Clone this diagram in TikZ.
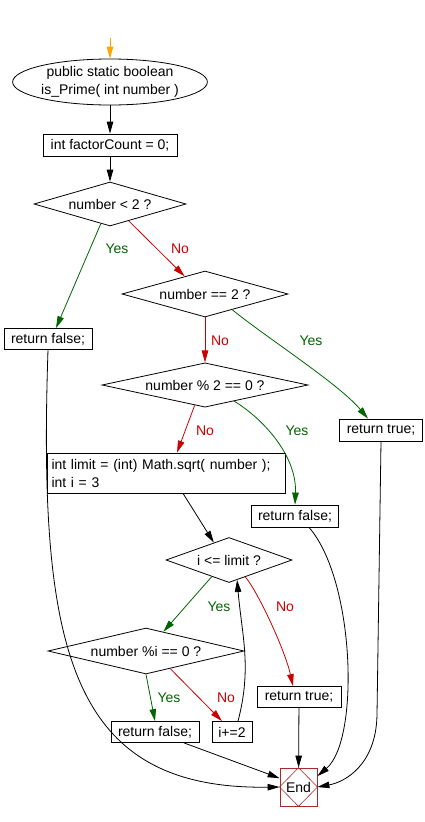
\documentclass[tikz,border=0pt]{standalone}
\usepackage{fontspec}
\setmainfont{Liberation Sans}
\usetikzlibrary{arrows.meta,shapes.geometric,calc}
\definecolor{yesgreen}{RGB}{0,100,0}
\definecolor{nored}{RGB}{204,0,0}
\definecolor{startorange}{RGB}{255,165,0}
\definecolor{endred}{RGB}{170,40,40}

\begin{document}
\begin{tikzpicture}[x=1pt,y=-1pt,
        every node/.style={font=\fontsize{14}{18}\selectfont},
        box/.style={draw,line width=0.8pt,minimum height=22pt,inner sep=0pt},
        cond/.style={draw,diamond,aspect=3.5,line width=0.8pt,inner sep=0pt},
        arr/.style={line width=0.8pt,-{Triangle[length=12pt,width=6.5pt]}},
        yesarr/.style={arr,color=yesgreen},
        noarr/.style={arr,color=nored},
        yeslbl/.style={text=yesgreen},
        nolbl/.style={text=nored}]
            \useasboundingbox (0,0) rectangle (424,822);

            \coordinate (top) at (110,38);
            \node[draw,ellipse,line width=0.8pt,minimum width=171pt,minimum height=46pt,inner sep=0pt,align=center] (start) at (110,82) {public static boolean\\is\_Prime( int number )};
            \node[box,minimum width=134pt] (fc) at (110,145) {int factorCount = 0;};
            \node[cond,minimum width=152pt,minimum height=44pt] (dlt) at (110,204) {number < 2 ?};
            \node[box,minimum width=88pt,minimum height=21pt] (rfa) at (48,339) {return false;};
            \node[cond,minimum width=166pt,minimum height=46pt] (deq) at (205,294) {number == 2 ?};
            \node[cond,minimum width=206pt,minimum height=44pt] (dev) at (205,385) {number \% 2 == 0 ?};
            \node[box,minimum width=83pt] (rta) at (381,430) {return true;};
            \node[draw,line width=0.8pt,text width=229pt,inner xsep=4.5pt,inner ysep=0pt,minimum height=40pt,align=left] (lim) at (166,473) {int limit = (int) Math.sqrt( number );\\int i = 3};
            \node[box,minimum width=87pt] (rfb) at (295,516) {return false;};
            \node[cond,minimum width=126pt,minimum height=45pt] (dle) at (229,560) {i <= limit ?};
            \node[cond,minimum width=196pt,minimum height=46pt] (dmod) at (146,651) {number \%i == 0 ?};
            \node[box,minimum width=84pt,minimum height=21pt] (rtb) at (299,697) {return true;};
            \node[box,minimum width=88pt,minimum height=21pt] (rfc) at (155,732) {return false;};
            \node[box,minimum width=40pt,minimum height=21pt] (inc) at (232,732) {i+=2};
            \node[draw=endred,line width=0.8pt,minimum width=37pt,minimum height=38pt,inner sep=0pt] (stop) at (298.5,787) {End};
            \draw[endred,line width=0.6pt] (stop.north) -- (stop.east) -- (stop.south) -- (stop.west) -- cycle;

            \node[yeslbl] (ya) at (117,249) {Yes};
            \node[nolbl] (na) at (180,249) {No};
            \node[nolbl] (nb) at (220,341) {No};
            \node[yeslbl] (yb) at (311,341) {Yes};
            \node[nolbl] (nc) at (205,431) {No};
            \node[yeslbl] (yc) at (297,431) {Yes};
            \node[yeslbl] (yd) at (219,607) {Yes};
            \node[nolbl] (nd) at (285,607) {No};
            \node[yeslbl] (ye) at (169,698) {Yes};
            \node[nolbl] (ne) at (226,698) {No};

            \draw[arr,color=startorange] (top) -- (start);
            \draw[arr] (start) -- (fc);
            \draw[arr] (fc) -- (dlt);

            \draw[yesarr] (dlt.245) -- ($(rfa.north)+(8,0)$);
            \draw[noarr] (dlt.-42) -- (deq.139);
            \draw[yesarr] (deq.-30) .. controls (267,338) and (339,384) .. ($(rta.north)+(-13,0)$);
            \draw[noarr] (deq) -- (dev);
            \draw[noarr] (dev.243) -- ($(lim.north)+(11,0)$);
            \draw[yesarr] (dev.-29) .. controls (262,418) and (297,455) .. (rfb.north);
            \draw[arr] ($(lim.south)+(17,0)$) -- (dle.131);
            \draw[yesarr] (dle.224) -- (dmod.48);
            \draw[noarr] (dle.-46) .. controls (258,592) and (285,650) .. ($(rtb.north)+(-6,0)$);
            \draw[yesarr] (dmod.south) -- (rfc.north);
            \draw[noarr] (dmod.-36) -- ($(inc.north)+(-10,0)$);
            \draw[arr] ($(inc.north)+(6,0)$) .. controls (252,668) and (242,636) .. (dle.-68);

            \draw[arr] (rtb) -- (stop);
            \draw[arr] ($(rfc.south)+(29,0)$) -- (stop.155);
            \draw[arr] (rfa.south) .. controls (38,650) and (70,790) .. (stop.west);
            \draw[arr] ($(rfb.south)+(14,0)$) .. controls (355,580) and (360,740) .. (stop.30);
            \draw[arr] (rta.south) -- (377,715) .. controls (376,765) and (345,782) .. (stop.east);
        \end{tikzpicture}
\end{document}
